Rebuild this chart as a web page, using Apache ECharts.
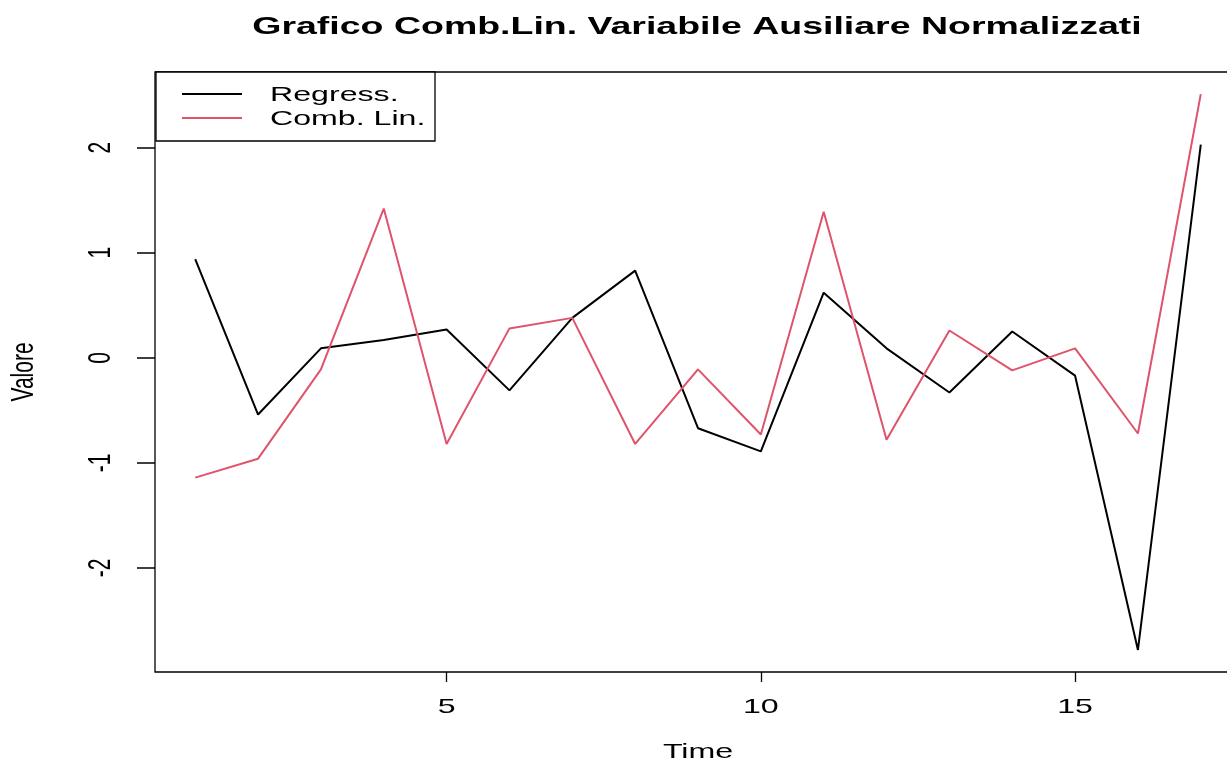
<!DOCTYPE html>
<html><head><meta charset="utf-8">
<script src="https://cdn.jsdelivr.net/npm/echarts@6/dist/echarts.min.js"></script>
<style>html,body{margin:0;padding:0;background:#fff}#c{width:1227px;height:762px}</style>
</head><body><div id="c"></div>
<script>
const time = [1,2,3,4,5,6,7,8,9,10,11,12,13,14,15,16,17];
const regress = [0.94,-0.54,0.09,0.17,0.27,-0.31,0.38,0.83,-0.67,-0.89,0.62,0.09,-0.33,0.25,-0.17,-2.78,2.03];
const combLin = [-1.14,-0.96,-0.11,1.42,-0.82,0.28,0.38,-0.82,-0.11,-0.73,1.39,-0.78,0.26,-0.12,0.09,-0.72,2.51];
const seriesNames = ['Regress.', 'Comb. Lin.'];
const seriesColors = ['#000000', '#DF536B'];
const xTicks = [5, 10, 15];
const yTicks = [-2, -1, 0, 1, 2];
const titleText = 'Grafico Comb.Lin. Variabile Ausiliare Normalizzati';
const xName = 'Time';
const yName = 'Valore';

(function () {
const FONT = '"Liberation Sans", Arial, Helvetica, sans-serif';
const SX = 1.53;   // horizontal stretch of the reference image
const FS = 21;
const X_MIN = 0.36, X_MAX = 17.64, Y_MIN = -2.99, Y_MAX = 2.72;

const chart = echarts.init(document.getElementById('c'));
chart.setOption({
  animation: false,
  grid: {left: 155, top: 72, right: -14, bottom: 90, show: true, borderColor: '#000', borderWidth: 1.3,
         backgroundColor: 'transparent', outerBoundsMode: 'none', containLabel: false},
  xAxis: {
    type: 'value', min: X_MIN, max: X_MAX,
    axisLine: {show: false, onZero: false},
    splitLine: {show: false},
    axisTick: {show: true, length: 10, lineStyle: {color: '#000', width: 1.3}, customValues: xTicks},
    axisLabel: {show: false, customValues: xTicks}
  },
  yAxis: {
    type: 'value', min: Y_MIN, max: Y_MAX,
    axisLine: {show: false, onZero: false},
    splitLine: {show: false},
    axisTick: {show: true, length: 18, lineStyle: {color: '#000', width: 1.5}, customValues: yTicks},
    axisLabel: {show: false, customValues: yTicks}
  },
  series: [
    {name: seriesNames[0], type: 'line', data: time.map((t, i) => [t, regress[i]]), showSymbol: false,
     lineStyle: {color: seriesColors[0], width: 2}, itemStyle: {color: seriesColors[0]}},
    {name: seriesNames[1], type: 'line', data: time.map((t, i) => [t, combLin[i]]), showSymbol: false,
     lineStyle: {color: seriesColors[1], width: 2}, itemStyle: {color: seriesColors[1]}}
  ]
});

function txt(text, x, y, opts) {
  opts = opts || {};
  return {
    type: 'text', x: x, y: y, z: 20,
    scaleX: opts.rot ? 1 : SX, scaleY: opts.rot ? SX : 1,
    rotation: opts.rot || 0,
    style: {
      text: text, x: 0, y: 0,
      font: (opts.bold ? 'bold ' : '') + (opts.size || FS) + 'px ' + FONT,
      fill: '#000',
      align: opts.align || 'center', verticalAlign: 'middle',
      textAlign: opts.align || 'center', textVerticalAlign: 'middle'
    }
  };
}

const p0 = chart.convertToPixel({gridIndex: 0}, [X_MIN, Y_MIN]);
const p1 = chart.convertToPixel({gridIndex: 0}, [X_MAX, Y_MAX]);
const gL = p0[0], gB = p0[1], gT = p1[1], gR = p1[0];
const g = [];
g.push(txt(titleText, 697, 27, {bold: true, size: 24.5}));
xTicks.forEach(v => {
  const p = chart.convertToPixel({gridIndex: 0}, [v, Y_MIN]);
  g.push(txt(String(v), p[0], gB + 35.5));
});
yTicks.forEach(v => {
  const p = chart.convertToPixel({gridIndex: 0}, [X_MIN, v]);
  g.push(txt(String(v), gL - 54, p[1], {rot: Math.PI / 2}));
});
g.push(txt(xName, (gL + gR) / 2, gB + 80));
g.push(txt(yName, gL - 131, (gT + gB) / 2, {rot: Math.PI / 2}));
// legend
g.push({type: 'rect', z: 20, shape: {x: 156, y: 72, width: 279, height: 69},
        style: {fill: '#fff', stroke: '#000', lineWidth: 1.3}});
const legY = [94, 118];
seriesNames.forEach((n, i) => {
  g.push({type: 'line', z: 21, shape: {x1: 182, y1: legY[i], x2: 242, y2: legY[i]},
          style: {stroke: seriesColors[i], lineWidth: 2}});
  g.push(Object.assign(txt(n, 270, legY[i] + 1.5, {align: 'left'}), {z: 21}));
});
chart.setOption({graphic: g});
})();
</script></body></html>
